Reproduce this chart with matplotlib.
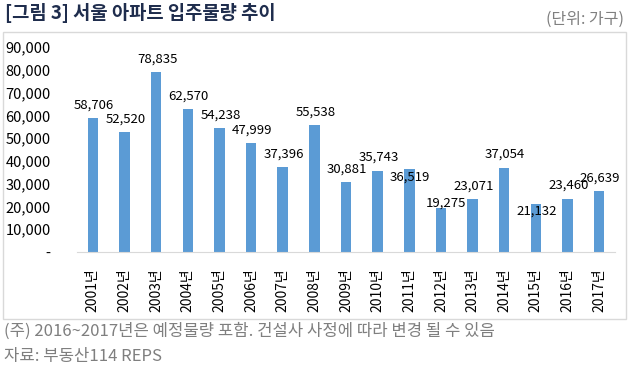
import numpy as np
import matplotlib
matplotlib.use("Agg")
import matplotlib.pyplot as plt
from matplotlib.patches import Rectangle

plt.rcParams['font.family'] = ['Noto Sans CJK KR', 'DejaVu Sans']

years = ["2001", "2002", "2003", "2004", "2005", "2006", "2007", "2008", "2009",
         "2010", "2011", "2012", "2013", "2014", "2015", "2016", "2017"]
supply = [58706, 52520, 78835, 62570, 54238, 47999, 37396, 55538, 30881,
          35743, 36519, 19275, 23071, 37054, 21132, 23460, 26639]
ytick_vals = [0, 10000, 20000, 30000, 40000, 50000, 60000, 70000, 80000, 90000]

# label nudges (pixels) where the original labels were moved by hand
label_nudge = {10: (1, -8), 11: (5, 5), 14: (1, -7)}

W, H = 630, 370
fig = plt.figure(figsize=(6.3, 3.7), dpi=100)

def fx(px):
    return px / W

def fy(py):
    return 1 - py / H

# chart frame
fig.patches.append(Rectangle((fx(3), fy(319)), fx(626) - fx(3), fy(32) - fy(319),
                             transform=fig.transFigure, fill=False,
                             edgecolor="#D9D9D9", linewidth=1.0))

ax = fig.add_axes([fx(77), fy(252), fx(615) - fx(77), fy(47) - fy(252)])
x = np.arange(len(years))
ax.bar(x, supply, width=0.33, color="#5B9BD5")

ax.set_xlim(-0.5, len(years) - 0.5)
ax.set_ylim(0, 90000)
ax.set_yticks(ytick_vals)
ax.set_yticklabels(["-" if v == 0 else f"{v:,}" for v in ytick_vals])
ax.set_xticks(x)
ax.set_xticklabels([y + "년" for y in years], rotation=90)
ax.tick_params(axis="y", length=0, pad=19, labelsize=10.5, labelcolor="#000000")
ax.tick_params(axis="x", length=0, pad=12, labelsize=10, labelcolor="#000000")

for s in ["top", "right", "left"]:
    ax.spines[s].set_visible(False)
ax.spines["bottom"].set_color("#D9D9D9")
ax.patch.set_alpha(0)

for i, v in enumerate(supply):
    dx, dy = label_nudge.get(i, (1, 13))
    ax.annotate(f"{v:,}", xy=(i, v), xytext=(dx, dy), textcoords="offset pixels",
                ha="center", va="center", fontsize=9.5, color="#000000")

fig.text(fx(5), fy(13), "[그림 3] 서울 아파트 입주물량 추이", ha="left", va="center",
         fontsize=13.5, fontweight="bold", color="#1F2D4D")
fig.text(fx(624), fy(19), "(단위: 가구)", ha="right", va="center",
         fontsize=11.5, color="#7F7F7F")
fig.text(fx(4), fy(331), "(주) 2016~2017년은 예정물량 포함. 건설사 사정에 따라 변경 될 수 있음",
         ha="left", va="center", fontsize=12, color="#7F7F7F")
fig.text(fx(4), fy(356), "자료: 부동산114 REPS", ha="left", va="center",
         fontsize=12, color="#7F7F7F")

fig.savefig("out.png", dpi=100)
